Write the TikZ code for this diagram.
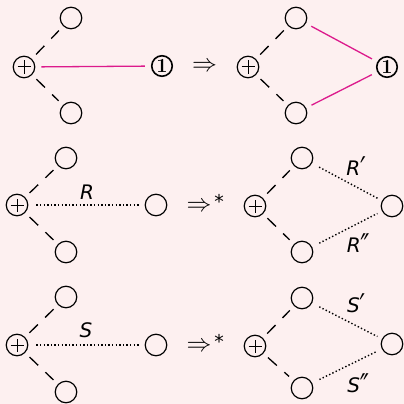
\documentclass[tikz,border=0pt]{standalone}
\usepackage{fontspec}
\newfontfamily\dvs{DejaVu Sans}
\definecolor{bg}{HTML}{FDF0F0}
\definecolor{mag}{HTML}{DC1A8C}
\newcommand{\myprime}{\smash{\raisebox{-6pt}{\scalebox{1.15}[1.7]{′}}}}
\newcommand{\mydprime}{\smash{\raisebox{-6pt}{\scalebox{1.15}[1.7]{″}}}}
\begin{document}
\begin{tikzpicture}[x=1pt,y=-1pt,
  sc/.style={circle,draw,line width=1.2pt,minimum size=21.5pt,inner sep=0pt},
  op/.style={sc,path picture={\draw[line width=1.0pt]
     ([xshift=-6.5pt]path picture bounding box.center) -- ([xshift=6.5pt]path picture bounding box.center)
     ([yshift=-6.5pt]path picture bounding box.center) -- ([yshift=6.5pt]path picture bounding box.center);}},
  one/.style={circle,draw,line width=1.6pt,minimum size=20.5pt,inner sep=0pt,font=\fontsize{20}{20}\selectfont\bfseries},
  dsh/.style={line width=1.3pt,dash pattern=on 12pt off 10pt,shorten >=6pt,shorten <=6pt},
  dot/.style={line width=1.4pt,dash pattern=on 1.4pt off 2.2pt,shorten >=5pt,shorten <=8pt},
  mg/.style={mag,line width=1.3pt,shorten >=6pt,shorten <=6pt},
  lab/.style={font=\dvs\itshape\fontsize{20}{20}\selectfont,inner sep=0pt},
  arr/.style={font=\fontsize{26}{26}\selectfont,inner sep=0pt}]
\fill[bg] (0,0) rectangle (404,404);
\useasboundingbox (0,0) rectangle (404,404);
% ---------- row 1 left
\node[op] (a1) at (24,67) {};
\node[sc] (a2) at (71,18) {};
\node[sc] (a3) at (71,113) {};
\node[one] (a4) at (162,66) {1};
\draw[dsh] (a1) -- (a2);
\draw[dsh] (a1) -- (a3);
\draw[mg] (a1) -- (a4);
\node[arr] (ar1) at (204.5,67) {$\Rightarrow$};
% ---------- row 1 right
\node[op] (b1) at (248,67) {};
\node[sc] (b2) at (296,18) {};
\node[sc] (b3) at (296,113) {};
\node[one] (b4) at (387,67) {1};
\draw[dsh] (b1) -- (b2);
\draw[dsh] (b1) -- (b3);
\draw[mg] (b2) -- (b4);
\draw[mg] (b3) -- (b4);
% ---------- row 2 left
\node[op] (c1) at (17,205) {};
\node[sc] (c2) at (66,158) {};
\node[sc] (c3) at (66,252) {};
\node[sc] (c4) at (156,205) {};
\draw[dsh] (c1) -- (c2);
\draw[dsh] (c1) -- (c3);
\draw[dot] (c1) -- (c4);
\node[lab] (cR) at (87,192) {R};
\node[arr] (ar2) at (199,207) {$\Rightarrow$};
\node (st2) at (219,201) {\dvs\fontsize{19}{19}\selectfont *};
% ---------- row 2 right
\node[op] (d1) at (255,206) {};
\node[sc] (d2) at (302,158) {};
\node[sc] (d3) at (302,252) {};
\node[sc] (d4) at (392,206) {};
\draw[dsh] (d1) -- (d2);
\draw[dsh] (d1) -- (d3);
\draw[dot] (d2) -- (d4);
\draw[dot] (d3) -- (d4);
\node[lab,anchor=base] (dR1) at (356,175) {R\myprime};
\node[lab,anchor=base] (dR2) at (358,252) {R\mydprime};
% ---------- row 3 left
\node[op] (e1) at (17,345) {};
\node[sc] (e2) at (66,297) {};
\node[sc] (e3) at (66,392) {};
\node[sc] (e4) at (156,345) {};
\draw[dsh] (e1) -- (e2);
\draw[dsh] (e1) -- (e3);
\draw[dot] (e1) -- (e4);
\node[lab] (eS) at (86,330) {S};
\node[arr] (ar3) at (199,347) {$\Rightarrow$};
\node (st3) at (219,341) {\dvs\fontsize{19}{19}\selectfont *};
% ---------- row 3 right
\node[op] (f1) at (255,346) {};
\node[sc] (f2) at (302,298) {};
\node[sc] (f3) at (302,388) {};
\node[sc] (f4) at (392,344) {};
\draw[dsh] (f1) -- (f2);
\draw[dsh] (f1) -- (f3);
\draw[dot] (f2) -- (f4);
\draw[dot] (f3) -- (f4);
\node[lab,anchor=base] (fS1) at (356,312) {S\myprime};
\node[lab,anchor=base] (fS2) at (358,392) {S\mydprime};
\end{tikzpicture}
\end{document}
